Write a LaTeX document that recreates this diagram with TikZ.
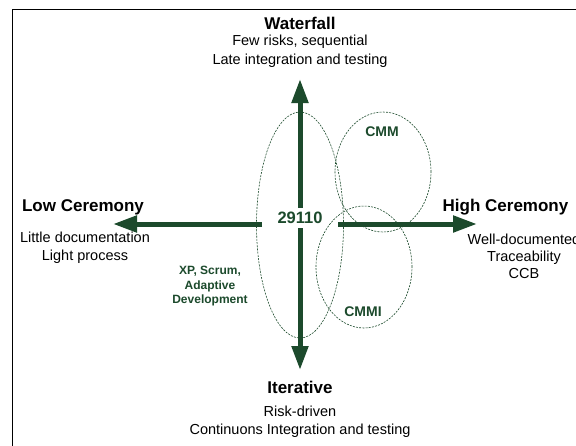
\documentclass[tikz,border=0pt]{standalone}
\usepackage{fontspec}
\setmainfont{Liberation Sans}
\usetikzlibrary{arrows.meta}
\definecolor{dgreen}{RGB}{28,74,44}
\begin{document}
\begin{tikzpicture}[x=1pt,y=-1pt,
  title/.style={font=\fontsize{17}{20}\selectfont\bfseries, inner sep=0pt},
  desc/.style={font=\fontsize{14.5}{18}\selectfont, align=center, inner sep=0pt},
  glabel/.style={font=\fontsize{14}{16}\selectfont\bfseries, text=dgreen, inner sep=0pt},
  bigarrow/.style={draw=dgreen, line width=5pt},
  zone/.style={draw=dgreen, line width=0.6pt, dash pattern=on 2pt off 1.2pt}]
\tikzset{>={Triangle[length=24pt,width=16pt]}}
\fill[white] (0,0) rectangle (576,445);
\clip (0,0) rectangle (576,445);
% frame
\draw[black, line width=1pt] (12.5,600) -- (12.5,9.5) -- (700,9.5);
% axis end points
\coordinate (wtip) at (300,79);
\coordinate (itip) at (300,370);
\coordinate (ltip) at (113,224);
\coordinate (lstart) at (262,224);
\coordinate (rtip) at (477,224);
\coordinate (rstart) at (338,224);
% arrows
\draw[bigarrow, <->] (itip) -- (wtip);
\draw[bigarrow, ->] (lstart) -- (ltip);
\draw[bigarrow, ->] (rstart) -- (rtip);
% centre label
\node[font=\fontsize{16.5}{18}\selectfont\bfseries, text=dgreen, fill=white,
      inner xsep=2pt, inner ysep=4pt] (iso) at (300,218) {29110};
% zones
\draw[zone] (300,225) ellipse [x radius=43.5pt, y radius=113pt];
\draw[zone] (383,172) ellipse [x radius=48pt, y radius=60pt];
\draw[zone] (364,267) ellipse [x radius=48pt, y radius=61pt];
\node[glabel] (cmm) at (382,132) {CMM};
\node[glabel] (cmmi) at (363,312) {CMMI};
\node[font=\fontsize{12}{14.5}\selectfont\bfseries, text=dgreen, align=center, inner sep=0pt]
  (agile) at (210,286.5) {XP, Scrum,\\Adaptive\\Development};
% axis labels
\node[title] (wf) at (300,23) {Waterfall};
\node[desc, font=\fontsize{14.5}{19}\selectfont] (wfd) at (300,51.5) {Few risks, sequential\\Late integration and testing};
\node[title] (low) at (83,207) {Low Ceremony};
\node[desc] (lowd) at (85,248) {Little documentation\\Light process};
\node[title] (high) at (505.5,207) {High Ceremony};
\node[desc, font=\fontsize{14.5}{17}\selectfont] (highd) at (524,256) {Well-documented\\Traceability\\CCB};
\node[title] (it) at (300,387) {Iterative};
\node[desc] (itd) at (300,422) {Risk-driven\\Continuons Integration and testing};
\end{tikzpicture}
\end{document}
